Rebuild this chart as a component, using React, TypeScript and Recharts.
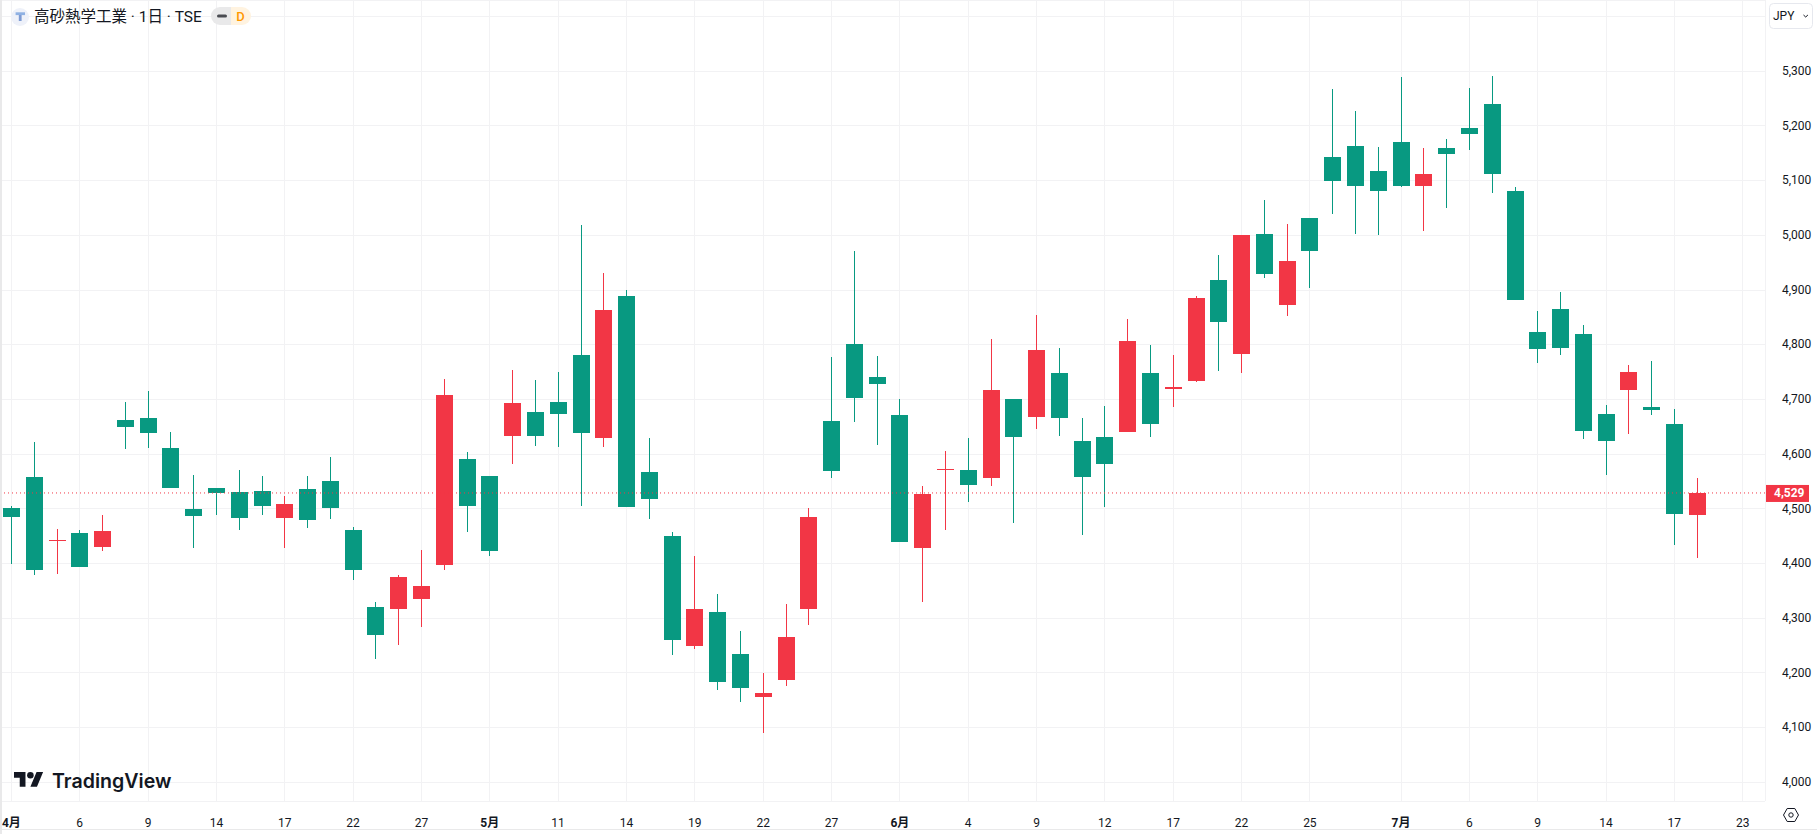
import { Bar, CartesianGrid, ComposedChart, ReferenceLine, XAxis, YAxis } from 'recharts'

const UP = '#f23645'
const DOWN = '#089981'
const INK = '#131722'
const GRID = '#f2f2f4'
const FONT = 'Roboto, "Noto Sans CJK JP", sans-serif'

// red = close above open, green = close below open
const opens = [
  4501, 4558, 4441, 4456, 4430, 4662, 4666, 4611, 4500, 4538, 4531, 4533, 4483, 4536, 4551,
  4461, 4320, 4317, 4335, 4397, 4591, 4560, 4633, 4677, 4695, 4781, 4630, 4889, 4567, 4450,
  4249, 4311, 4235, 4156, 4187, 4317, 4660, 4801, 4741, 4671, 4428, 4571, 4571, 4556, 4701,
  4668, 4748, 4624, 4631, 4640, 4748, 4719, 4734, 4918, 4783, 5002, 4873, 5032, 5143, 5163,
  5118, 5171, 5090, 5160, 5196, 5240, 5081, 4823, 4865, 4820, 4673, 4717, 4686, 4655, 4489,
]
const highs = [
  4505, 4622, 4463, 4461, 4489, 4695, 4715, 4640, 4562, 4538, 4571, 4560, 4523, 4560, 4595,
  4467, 4330, 4379, 4425, 4737, 4604, 4560, 4754, 4735, 4750, 5019, 4931, 4900, 4630, 4457,
  4414, 4344, 4276, 4200, 4326, 4502, 4777, 4971, 4779, 4701, 4542, 4606, 4629, 4810, 4701,
  4854, 4794, 4666, 4688, 4847, 4799, 4781, 4889, 4964, 5000, 5064, 5021, 5032, 5267, 5227,
  5161, 5289, 5160, 5176, 5269, 5291, 5088, 4862, 4896, 4836, 4690, 4763, 4770, 4682, 4556,
]
const lows = [
  4399, 4379, 4381, 4394, 4423, 4609, 4611, 4538, 4428, 4489, 4461, 4489, 4428, 4465, 4481,
  4370, 4225, 4251, 4284, 4389, 4457, 4414, 4582, 4615, 4613, 4505, 4613, 4503, 4481, 4233,
  4244, 4169, 4147, 4090, 4176, 4287, 4557, 4658, 4617, 4439, 4330, 4461, 4512, 4542, 4474,
  4646, 4633, 4452, 4503, 4640, 4631, 4686, 4732, 4752, 4748, 4922, 4852, 4904, 5039, 5002,
  5000, 5088, 5008, 5050, 5156, 5077, 4882, 4767, 4781, 4628, 4562, 4637, 4671, 4434, 4410,
]
const closes = [
  4485, 4388, 4443, 4394, 4459, 4650, 4639, 4538, 4487, 4529, 4483, 4505, 4509, 4479, 4501,
  4388, 4269, 4375, 4359, 4708, 4505, 4423, 4694, 4633, 4673, 4639, 4863, 4503, 4518, 4260,
  4317, 4183, 4173, 4163, 4265, 4485, 4569, 4703, 4728, 4439, 4527, 4573, 4543, 4717, 4631,
  4790, 4666, 4558, 4582, 4807, 4655, 4723, 4885, 4841, 5000, 4929, 4953, 4971, 5099, 5090,
  5081, 5090, 5112, 5149, 5185, 5112, 4882, 4792, 4794, 4642, 4624, 4750, 4681, 4491, 4529,
]

const lastPrice = 4529
const priceTicks = [4000, 4100, 4200, 4300, 4400, 4500, 4600, 4700, 4800, 4900, 5000, 5100, 5200, 5300, 5400]
const hiddenPriceLabels = [5400]

// slot index on the time scale and what is written under it
const timeSlots = [0, 3, 6, 9, 12, 15, 18, 21, 24, 27, 30, 33, 36, 39, 42, 45, 48, 51, 54, 57, 61, 64, 67, 70, 73, 76]
const timeLabels = ['4月', '6', '9', '14', '17', '22', '27', '5月', '11', '14', '19', '22', '27', '6月', '4', '9', '12', '17', '22', '25', '7月', '6', '9', '14', '17', '23']
const emptySlots = [75, 76]

const rows = [
  ...opens.map((open, i) => ({
    slot: i,
    open,
    high: highs[i],
    low: lows[i],
    close: closes[i],
    range: [lows[i], highs[i]],
  })),
  ...emptySlots.map((slot) => ({ slot })),
]

function Candle(props: any) {
  const { x, y, width, height, payload } = props
  if (payload.high == null) return null
  const k = height / (payload.high - payload.low)
  const color = payload.close >= payload.open ? UP : DOWN
  const wickX = Math.floor(x + width / 2)
  const top = Math.round(y + (payload.high - Math.max(payload.open, payload.close)) * k)
  const bottom = Math.round(y + (payload.high - Math.min(payload.open, payload.close)) * k)
  return (
    <g shapeRendering="crispEdges">
      <rect x={wickX} y={y} width={1} height={height} fill={color} />
      <rect x={wickX - 8} y={top} width={17} height={Math.max(1, bottom - top)} fill={color} />
    </g>
  )
}

function PriceTick(props: any) {
  const { x, y, payload } = props
  if (hiddenPriceLabels.includes(payload.value)) return null
  return (
    <text x={x + 9} y={y - 0.5} dy="0.35em" fontSize={12} fontFamily={FONT} fill={INK}>
      {payload.value.toLocaleString('en-US')}
    </text>
  )
}

function TimeTick(props: any) {
  const { x, y, payload } = props
  const label = timeLabels[timeSlots.indexOf(payload.value)]
  return (
    <text
      x={x}
      y={y + 14}
      dy="0.35em"
      textAnchor="middle"
      fontSize={12}
      fontWeight={label.endsWith('月') ? 700 : 400}
      fontFamily={FONT}
      fill={INK}
    >
      {label}
    </text>
  )
}

function PriceTag(props: any) {
  const y = props.viewBox.y
  return (
    <g>
      <rect x={1766} y={y - 8} width={43} height={17} fill={UP} />
      <text x={1774} y={y} dy="0.35em" fontSize={12} fontWeight={700} fontFamily={FONT} fill="#fff">
        {lastPrice.toLocaleString('en-US')}
      </text>
    </g>
  )
}

function Overlay() {
  return (
    <svg width={1817} height={834} style={{ position: 'absolute', left: 0, top: 0, pointerEvents: 'none' }}>
      <rect x={0} y={0} width={2} height={834} fill="#e9e9ea" />
      <rect x={0} y={829} width={1817} height={1} fill="#e9e9ea" />

      <circle cx={20} cy={17} r={9} fill="#eef1f9" />
      <rect x={15.6} y={12.3} width={9.4} height={2.8} fill="#8fb1e3" />
      <rect x={18.8} y={15} width={2.8} height={6} fill="#7d9bd4" />
      <text x={34} y={17} dy="0.35em" fontSize={15.5} fontFamily={FONT} fill={INK}>
        高砂熱学工業 · 1日 · TSE
      </text>
      <path d="M231 7h-11a9 9 0 0 0 0 18h11z" fill="#e9e9ea" />
      <path d="M231 7h11a9 9 0 0 1 0 18h-11z" fill="#fff3e0" />
      <rect x={217} y={14.5} width={10} height={3} rx={1.5} fill="#4a4c52" />
      <text x={240.5} y={16} dy="0.35em" textAnchor="middle" fontSize={13} fontWeight={500} fontFamily={FONT} fill="#ff9800">
        D
      </text>

      <rect x={1769.5} y={3.5} width={43} height={25} rx={4} fill="#fff" stroke="#e6e8ee" />
      <text x={1773} y={16} dy="0.35em" fontSize={12} fontFamily={FONT} fill={INK}>
        JPY
      </text>
      <path d="M1803.5 15l2.2 2 2.2-2" fill="none" stroke={INK} strokeWidth={1} />

      <path d="M1783.5 815l3.7-6.5h7.6l3.7 6.5-3.7 6.5h-7.6z" fill="none" stroke={INK} strokeWidth={1} />
      <circle cx={1791} cy={815} r={2.2} fill="none" stroke={INK} strokeWidth={1} />

      <g transform="translate(14 768.7) scale(0.82)" fill={INK}>
        <path d="M14 22H7V11H0V4h14v18zM28 22h-8l7.5-18h8L28 22z" />
        <circle cx={20} cy={8} r={4} />
      </g>
      <text x={52} y={781} dy="0.35em" fontSize={19.6} fontWeight={600} fontFamily="Inter, Roboto, sans-serif" fill={INK}>
        TradingView
      </text>
    </svg>
  )
}

export default function App() {
  return (
    <div style={{ position: 'absolute', left: 0, top: 0, width: 1817, height: 834, overflow: 'hidden', background: '#fff' }}>
      <ComposedChart width={1817} height={834} data={rows} margin={{ top: 0, right: 0, bottom: 0, left: 0 }}>
        <CartesianGrid stroke={GRID} strokeWidth={1} shapeRendering="crispEdges" />
        <XAxis
          dataKey="slot"
          type="category"
          ticks={timeSlots}
          interval={0}
          height={33}
          padding={{ left: 0, right: 10.9 }}
          axisLine={false}
          tickLine={false}
          tick={(p: any) => <TimeTick {...p} />}
        />
        <YAxis
          orientation="right"
          type="number"
          width={52}
          domain={[3965.8, 5430.3]}
          allowDataOverflow
          ticks={priceTicks}
          interval={0}
          axisLine={false}
          tickLine={false}
          tick={(p: any) => <PriceTick {...p} />}
        />
        <Bar dataKey="range" barSize={17} isAnimationActive={false} shape={(p: any) => <Candle {...p} />} />
        <ReferenceLine
          y={lastPrice}
          stroke={UP}
          strokeDasharray="1 3"
          label={(p: any) => <PriceTag {...p} />}
        />
      </ComposedChart>
      <Overlay />
    </div>
  )
}
